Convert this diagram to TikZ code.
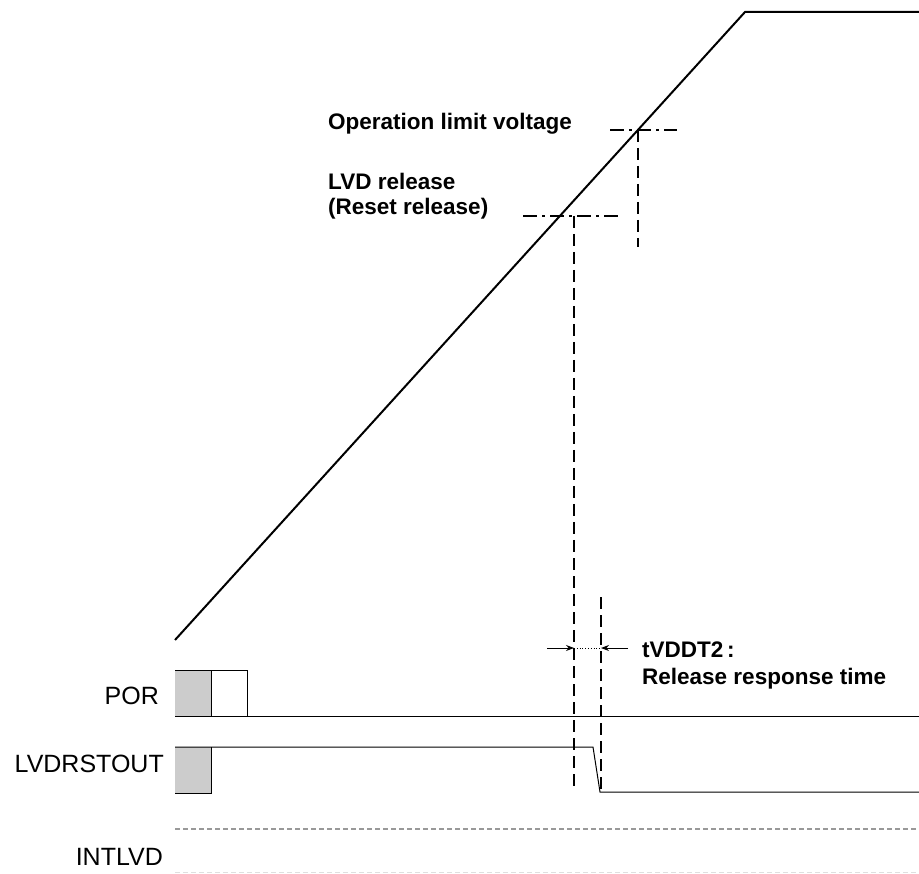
\documentclass[tikz,border=0pt]{standalone}
\usepackage{fontspec}
\setmainfont{Liberation Sans}
\usetikzlibrary{arrows.meta, positioning, calc}
\definecolor{resetgray}{RGB}{204, 204, 204}

\tikzset{
  ramp/.style={line width=2pt},
  sig/.style={line width=1pt},
  guide/.style={line width=1.4pt, dash pattern=on 12pt off 6pt},
  level/.style={line width=1.2pt, dash pattern=on 14pt off 5pt on 3pt off 5pt},
  boldlbl/.style={font=\fontsize{22.5}{27}\selectfont\bfseries, inner sep=0pt, anchor=base west},
  siglbl/.style={font=\fontsize{25}{30}\selectfont, inner sep=0pt, anchor=base east},
}

\begin{document}
\begin{tikzpicture}[x=1pt, y=-1pt]
  \useasboundingbox (0, 0) rectangle (919, 874);

  % supply ramp
  \coordinate (rampstart) at (175, 640);
  \coordinate (rampknee) at (745, 12);
  \coordinate (rampend) at (919, 12);
  \draw[ramp] (rampstart) -- (rampknee) -- (rampend);

  % voltage levels
  \coordinate (oplimit) at (638, 130);
  \coordinate (lvdrel) at (574, 216);
  \draw[level] (610, 130) -- (677, 130);
  \draw[level] (523, 216) -- (618, 216);
  \draw[guide] (oplimit) -- (638, 247);
  \coordinate (lvdfoot) at (574, 787);
  \draw[guide] (lvdrel) -- (lvdfoot);
  \coordinate (resptop) at (601, 597);
  \coordinate (respfoot) at (601, 790);
  \draw[guide] (resptop) -- (respfoot);

  \node[boldlbl] (oplbl) at (328, 130) {Operation limit voltage};
  \node[boldlbl] (lvdlbl) at (328, 190) {LVD release};
  \node[boldlbl] (rstlbl) at (328, 215) {(Reset release)};

  % response time
  \coordinate (tleft) at (574, 648);
  \coordinate (tright) at (601, 648);
  \draw[line width=1pt, -{Stealth[length=8pt, width=6pt]}] (547, 648) -- (tleft);
  \draw[line width=1pt, -{Stealth[length=8pt, width=6pt]}] (628, 648) -- (tright);
  \draw[line width=0.8pt, dotted] (tleft) -- (tright);
  \node[boldlbl] (tvddt) at (642, 657) {tVDDT2\,:};
  \node[boldlbl] (tvddtdesc) at (642, 684) {Release response time};

  % POR
  \fill[resetgray] (175, 670) rectangle (211, 716);
  \draw[sig] (175, 670) -- (247, 670) -- (247, 716);
  \draw[sig] (211, 670) -- (211, 716);
  \draw[sig] (175, 716) -- (919, 716);
  \node[siglbl] (por) at (159, 704) {POR};

  % LVDRSTOUT
  \fill[resetgray] (175, 747) rectangle (211, 793);
  \coordinate (fallstart) at (593, 747);
  \coordinate (fallend) at (600, 792);
  \draw[sig] (175, 747) -- (fallstart) -- (fallend) -- (919, 792);
  \draw[sig] (211, 747) -- (211, 793) -- (175, 793);
  \node[siglbl] (lvdrst) at (164, 772) {LVDRSTOUT};

  % INTLVD
  \draw[line width=1.2pt, gray!80, dash pattern=on 5pt off 3pt] (175, 829) -- (919, 829);
  \draw[line width=1pt, gray!25, dash pattern=on 5pt off 3pt] (175, 872) -- (919, 872);
  \node[siglbl] (intlvd) at (163, 865) {INTLVD};
\end{tikzpicture}
\end{document}
